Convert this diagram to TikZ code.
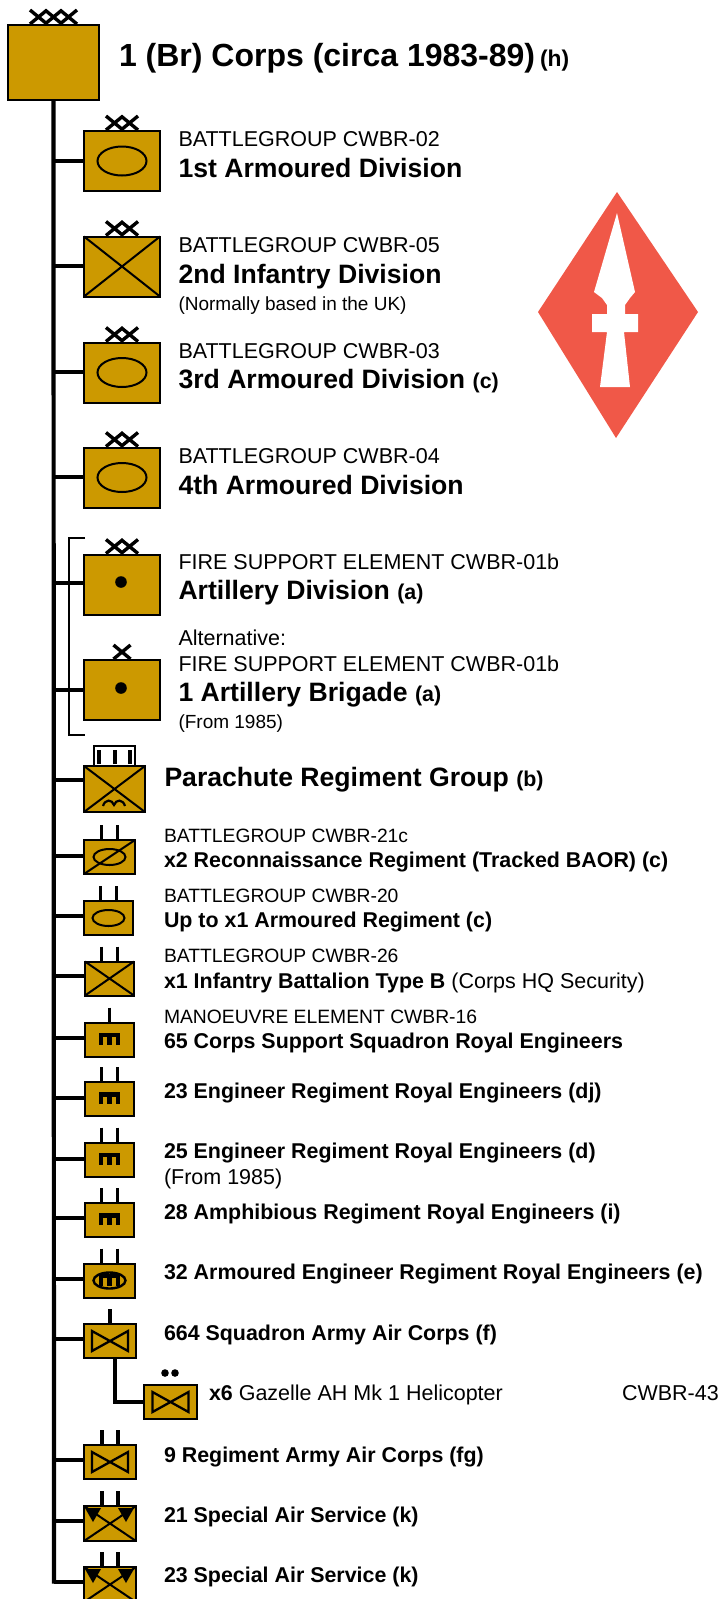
\documentclass[tikz,border=0pt]{standalone}
\usepackage{fontspec}
\setmainfont{Liberation Sans}
\usetikzlibrary{calc}

\definecolor{armygold}{RGB}{204,153,0}
\definecolor{signred}{RGB}{240,88,72}

\newcommand{\fsA}{\fontsize{21.5}{24}\selectfont}
\newcommand{\fsB}{\fontsize{19.3}{22}\selectfont}
\newcommand{\fsC}{\fontsize{26.6}{30}\selectfont\bfseries}
\newcommand{\fsD}{\fontsize{21.4}{24}\selectfont\bfseries}

\tikzset{
  unitbox/.style={draw=black,fill=armygold,line width=2pt,inner sep=0pt,outer sep=0pt},
  bigbox/.style={unitbox,minimum width=76,minimum height=60},
  smallbox/.style={unitbox,minimum width=51,minimum height=34},
  symline/.style={line width=2pt,draw=black},
  rankline/.style={line width=3.4pt,draw=black},
  barline/.style={line width=3.6pt,draw=black},
  trunk/.style={line width=4.2pt,draw=black},
  branch/.style={line width=4pt,draw=black},
  txt/.style={anchor=base west,inner sep=0pt,outer sep=0pt}
}

% rank marks, symbols
\newcommand{\rankx}[2]{\draw[rankline] ([shift={(#2-8.5,-15)}]#1.north) -- ([shift={(#2+8.5,-1)}]#1.north)
  ([shift={(#2+8.5,-15)}]#1.north) -- ([shift={(#2-8.5,-1)}]#1.north);}
\newcommand{\rankbar}[2]{\draw[barline] ([shift={(#2,-15)}]#1.north) -- ([shift={(#2,-1)}]#1.north);}
\newcommand{\crossed}[1]{\draw[symline] (#1.north west) -- (#1.south east) (#1.north east) -- (#1.south west);}
\newcommand{\engsign}[1]{\draw[line width=4.4pt] ([shift={(-8.5,5)}]#1.center) -- ++(0,-9.5) -- ++(17,0) -- ++(0,9.5)
  ([shift={(0,-4.5)}]#1.center) -- ++(0,9.5);}
\newcommand{\airsign}[1]{\draw[symline,line width=2.3pt] ([shift={(-18,-10)}]#1.center) -- ([shift={(18,10)}]#1.center)
  -- ([shift={(18,-10)}]#1.center) -- ([shift={(-18,10)}]#1.center) -- cycle;}
\newcommand{\sasmark}[1]{\crossed{#1}
  \fill ([shift={(-25,2)}]#1.north) -- ([shift={(-9,2)}]#1.north) -- ([shift={(-17,16)}]#1.north) -- cycle;
  \fill ([shift={(8,2)}]#1.north) -- ([shift={(24,2)}]#1.north) -- ([shift={(16,16)}]#1.north) -- cycle;}

\begin{document}
\begin{tikzpicture}[x=1pt,y=-1pt]
\clip (0,0) rectangle (721,1599);

% unit boxes
\node[unitbox,minimum width=91,minimum height=75] (corps) at (53.5,62.5) {};
\node[bigbox] (arma) at (122,161) {};
\node[bigbox] (infb) at (122,266.5) {};
\node[bigbox] (armc) at (122,372.5) {};
\node[bigbox] (armd) at (122,477.5) {};
\node[bigbox] (artydiv) at (122,584.5) {};
\node[bigbox] (artybde) at (122,690) {};
\node[unitbox,minimum width=61,minimum height=46] (para) at (114.5,789) {};
\node[smallbox] (recce) at (109.5,857) {};
\node[smallbox,minimum width=49] (armreg) at (108.5,918) {};
\node[smallbox,minimum width=49] (infbn) at (109.5,978.5) {};
\node[smallbox,minimum width=49] (enga) at (109.5,1039.5) {};
\node[smallbox,minimum width=49] (engb) at (109.5,1099) {};
\node[smallbox,minimum width=49] (engc) at (109.5,1159.5) {};
\node[smallbox,minimum width=49] (engd) at (109.5,1220) {};
\node[smallbox] (enge) at (109.5,1280.5) {};
\node[smallbox,minimum width=52] (aaca) at (110,1341) {};
\node[smallbox,minimum width=53] (gazelle) at (170.5,1402) {};
\node[smallbox,minimum width=52] (aacb) at (110,1462) {};
\node[smallbox,minimum width=52,minimum height=35] (sasa) at (110,1523.5) {};
\node[smallbox,minimum width=52,minimum height=35] (sasb) at (110,1584.5) {};

% connectors
\coordinate (trunkend) at (54,1583.5);
\draw[trunk] (corps.south) -- (trunkend);
\coordinate (brtop) at (85,538);
\coordinate (brbot) at (85,735);
\draw[line width=1.8pt] (brtop) -- (69,538) -- (69,735) -- (brbot);
\foreach \nm/\y in {arma/161,infb/266,armc/372,armd/477,artydiv/583,artybde/690,para/780,recce/856,
  armreg/916,infbn/976,enga/1038,engb/1098,engc/1159,engd/1218,enge/1279,aaca/1339,aacb/1460,sasa/1521,sasb/1582}{
  \coordinate (s\nm) at (54,\y);
  \draw[branch] (s\nm) -- (s\nm -| \nm.west);
}
\coordinate (gazup) at (115,1358);
\draw[branch] (gazup) |- (gazelle.west);

% rank marks
\foreach \dx in {-15,0,15}{\rankx{corps}{\dx}}
\foreach \nm in {arma,infb,armc,armd,artydiv}{\rankx{\nm}{-7.5}\rankx{\nm}{7.5}}
\rankx{artybde}{0}
\draw[line width=2pt] (para.north west) ++(10,0) -- ++(0,-20) -- ++(41,0) -- ++(0,20);
\foreach \dx in {-15.5,0.5,15.5}{\draw[barline,line width=4pt] ([shift={(\dx,-2)}]para.north) -- ([shift={(\dx,-16)}]para.north);}
\foreach \nm in {recce,armreg,infbn,engb,engc,engd,enge,aacb,sasa,sasb}{\rankbar{\nm}{-8}\rankbar{\nm}{8}}
\foreach \nm in {enga,aaca}{\rankbar{\nm}{0}}
\fill (165,1373) circle (3.8) (175,1373) circle (3.8);

% symbols
\foreach \nm in {arma,armc,armd}{\draw[symline] (\nm.center) ellipse (24.5 and 14.5);}
\crossed{infb}
\fill (artydiv.center) ++(-1,-2.5) circle (5.8);
\fill (artybde.center) ++(-1,-2) circle (5.8);
\crossed{para}
\draw[symline,line width=2.2pt] (103,806) .. controls (105,799) and (112,799) .. (114,805)
  .. controls (116,799) and (123,799) .. (125,806);
\draw[symline] (recce.center) ellipse (16 and 8);
\draw[symline] (recce.south west) -- (recce.north east);
\draw[symline] (armreg.center) ellipse (16 and 8);
\crossed{infbn}
\foreach \nm in {enga,engb,engc,engd}{\engsign{\nm}}
\draw[symline,line width=2.4pt] (enge.center) ellipse (16 and 8);
\engsign{enge}
\airsign{aaca}\airsign{gazelle}\airsign{aacb}
\sasmark{sasa}\sasmark{sasb}

% badge
\fill[signred] (617,192) -- (698,312) -- (616,438) -- (538,312) -- cycle;
\fill[white] (617,213) -- (594,292) -- (602,298) -- (607,305) -- (607,314) -- (592,314) -- (592,332) -- (607,332)
  -- (600,387) -- (630,387) -- (624,332) -- (638,332) -- (638,314) -- (625,314) -- (625,305) -- (630,298) -- (635,292) -- cycle;

% labels
\node[txt,font=\fontsize{32}{36}\selectfont\bfseries] (tcorps) at (119,66.5) {1 (Br) Corps (circa 1983-89) \hspace{-4pt}{\fontsize{22.8}{26}\selectfont(h)}};
\node[txt,font=\fsA] (tarmaa) at (178.5,146) {BATTLEGROUP CWBR-02};
\node[txt,font=\fsC] (tarmab) at (178.5,177) {1st Armoured Division};
\node[txt,font=\fsA] (tinfa) at (178.5,252) {BATTLEGROUP CWBR-05};
\node[txt,font=\fsC] (tinfb) at (178.5,283) {2nd Infantry Division};
\node[txt,font=\fontsize{19}{22}\selectfont] (tinfc) at (178.5,310) {(Normally based in the UK)};
\node[txt,font=\fsA] (tarmca) at (178.5,358) {BATTLEGROUP CWBR-03};
\node[txt,font=\fsC] (tarmcb) at (178.5,388.5) {3rd Armoured Division {\fsD(c)}};
\node[txt,font=\fsA] (tarmda) at (178.5,463) {BATTLEGROUP CWBR-04};
\node[txt,font=\fsC] (tarmdb) at (178.5,494) {4th Armoured Division};
\node[txt,font=\fsA] (tdiva) at (178.5,569) {FIRE SUPPORT ELEMENT CWBR-01b};
\node[txt,font=\fsC] (tdivb) at (178.5,599) {Artillery Division {\fsD(a)}};
\node[txt,font=\fsA] (tbdea) at (178.5,645) {Alternative:};
\node[txt,font=\fsA] (tbdeb) at (178.5,671) {FIRE SUPPORT ELEMENT CWBR-01b};
\node[txt,font=\fsC] (tbdec) at (178.5,701) {1 Artillery Brigade {\fsD(a)}};
\node[txt,font=\fontsize{19}{22}\selectfont] (tbded) at (178.5,728) {(From 1985)};
\node[txt,font=\fsC] (tpara) at (164.5,786.5) {Parachute Regiment Group {\fsD(b)}};
\node[txt,font=\fsB] (trecca) at (164,842) {BATTLEGROUP CWBR-21c};
\node[txt,font=\fsD] (treccb) at (164,867) {x2 Reconnaissance Regiment (Tracked BAOR) (c)};
\node[txt,font=\fsB] (tarmra) at (164,902) {BATTLEGROUP CWBR-20};
\node[txt,font=\fsD] (tarmrb) at (164,927) {Up to x1 Armoured Regiment (c)};
\node[txt,font=\fsB] (tinfba) at (164,962) {BATTLEGROUP CWBR-26};
\node[txt,font=\fsD] (tinfbb) at (164,988) {x1 Infantry Battalion Type B {\mdseries\fsA(Corps HQ Security)}};
\node[txt,font=\fsB] (tengaa) at (164,1023) {MANOEUVRE ELEMENT CWBR-16};
\node[txt,font=\fsD] (tengab) at (164,1048) {65 Corps Support Squadron Royal Engineers};
\node[txt,font=\fsD] (tengb) at (164,1098) {23 Engineer Regiment Royal Engineers (dj)};
\node[txt,font=\fsD] (tengc) at (164,1158) {25 Engineer Regiment Royal Engineers (d)};
\node[txt,font=\fsA] (tengcb) at (164,1184) {(From 1985)};
\node[txt,font=\fsD] (tengd) at (164,1219) {28 Amphibious Regiment Royal Engineers (i)};
\node[txt,font=\fsD] (tenge) at (164,1279) {32 Armoured Engineer Regiment Royal Engineers (e)};
\node[txt,font=\fsD] (taaca) at (164,1340) {664 Squadron Army Air Corps (f)};
\node[txt,font=\fsA] (tgaz) at (209,1400) {{\fsD x6} Gazelle AH Mk 1 Helicopter};
\node[txt,font=\fsA] (tgazcode) at (622,1400) {CWBR-43};
\node[txt,font=\fsD] (taacb) at (164,1462) {9 Regiment Army Air Corps (fg)};
\node[txt,font=\fsD] (tsasa) at (164,1522) {21 Special Air Service (k)};
\node[txt,font=\fsD] (tsasb) at (164,1582) {23 Special Air Service (k)};
\end{tikzpicture}
\end{document}
